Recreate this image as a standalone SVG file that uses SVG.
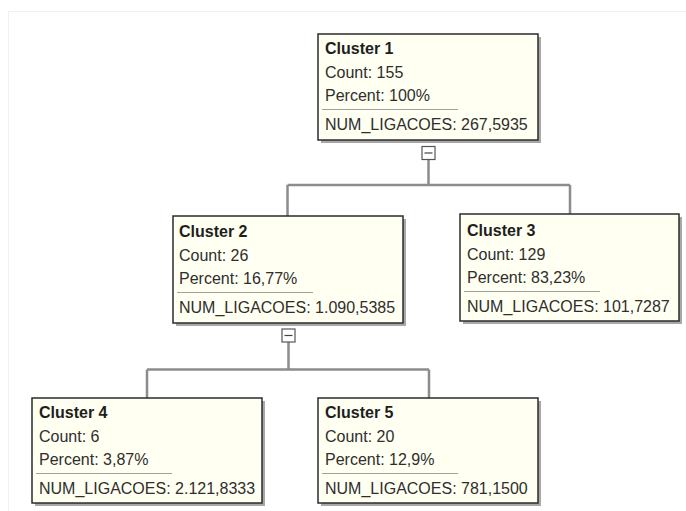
<svg xmlns="http://www.w3.org/2000/svg" width="686" height="511" viewBox="0 0 686 511">
  <style>
    .shadow { fill: #a8a8a8; }
    .box { fill: #fffff2; stroke: #2b2b2b; stroke-width: 1.5; }
    .sep { stroke: #a0a0a0; stroke-width: 1; }
    .title { font-family: "Liberation Sans", Arial, sans-serif; font-size: 16px; font-weight: bold; fill: #1e1e1e; }
    .txt { font-family: "Liberation Sans", Arial, sans-serif; font-size: 16px; fill: #2e2e2e; }
    .wire { fill: none; stroke: #8c8c8c; stroke-width: 2.5; }
    .toggle { fill: #ffffff; stroke: #555555; stroke-width: 1.2; }
    .minus { stroke: #444444; stroke-width: 1.2; }
  </style>

  <rect width="686" height="511" fill="#ffffff"/>
  <!-- faint canvas frame -->
  <path d="M8.5,511 V11.5 H686" fill="none" stroke="#f0f0f0" stroke-width="1"/>

  <!-- connectors -->
  <g id="connectors">
    <path class="wire" d="M428.5,159.5 V185 M287.5,185 H570 M287.5,185 V216 M570,185 V214"/>
    <path class="wire" d="M288.5,342 V369.5 M147,369.5 H429 M147,369.5 V398 M429,369.5 V398"/>
    <rect class="toggle" x="422" y="146.5" width="13" height="13"/>
    <line class="minus" x1="424.5" y1="153" x2="432.5" y2="153"/>
    <rect class="toggle" x="282" y="329" width="13" height="13"/>
    <line class="minus" x1="284.5" y1="335.5" x2="292.5" y2="335.5"/>
  </g>

  <g id="cluster1">
    <rect class="shadow" x="321" y="37" width="220" height="106"/>
    <rect class="box" x="318" y="34" width="220" height="106"/>
    <text class="title" x="325" y="54">Cluster 1</text>
    <text class="txt" x="325" y="78">Count: 155</text>
    <text class="txt" x="325" y="101">Percent: 100%</text>
    <line class="sep" x1="322" y1="109.5" x2="458" y2="109.5"/>
    <text class="txt" x="325" y="130">NUM_LIGACOES: 267,5935</text>
  </g>

  <g id="cluster2">
    <rect class="shadow" x="176" y="219" width="230" height="107"/>
    <rect class="box" x="173" y="216" width="230" height="107"/>
    <text class="title" x="179" y="237">Cluster 2</text>
    <text class="txt" x="179" y="261">Count: 26</text>
    <text class="txt" x="179" y="284">Percent: 16,77%</text>
    <line class="sep" x1="177" y1="292.5" x2="313" y2="292.5"/>
    <text class="txt" x="179" y="313">NUM_LIGACOES: 1.090,5385</text>
  </g>

  <g id="cluster3">
    <rect class="shadow" x="463" y="217" width="219" height="107"/>
    <rect class="box" x="460" y="214" width="219" height="107"/>
    <text class="title" x="467" y="236">Cluster 3</text>
    <text class="txt" x="467" y="260">Count: 129</text>
    <text class="txt" x="467" y="283">Percent: 83,23%</text>
    <line class="sep" x1="464" y1="291.5" x2="600" y2="291.5"/>
    <text class="txt" x="467" y="312">NUM_LIGACOES: 101,7287</text>
  </g>

  <g id="cluster4">
    <rect class="shadow" x="35" y="401" width="230" height="105"/>
    <rect class="box" x="32" y="398" width="230" height="105"/>
    <text class="title" x="39" y="418">Cluster 4</text>
    <text class="txt" x="39" y="442">Count: 6</text>
    <text class="txt" x="39" y="465">Percent: 3,87%</text>
    <line class="sep" x1="36" y1="473.5" x2="172" y2="473.5"/>
    <text class="txt" x="39" y="494">NUM_LIGACOES: 2.121,8333</text>
  </g>

  <g id="cluster5">
    <rect class="shadow" x="321" y="401" width="220" height="105"/>
    <rect class="box" x="318" y="398" width="220" height="105"/>
    <text class="title" x="325" y="418">Cluster 5</text>
    <text class="txt" x="325" y="442">Count: 20</text>
    <text class="txt" x="325" y="465">Percent: 12,9%</text>
    <line class="sep" x1="322" y1="473.5" x2="458" y2="473.5"/>
    <text class="txt" x="325" y="494">NUM_LIGACOES: 781,1500</text>
  </g>
</svg>
